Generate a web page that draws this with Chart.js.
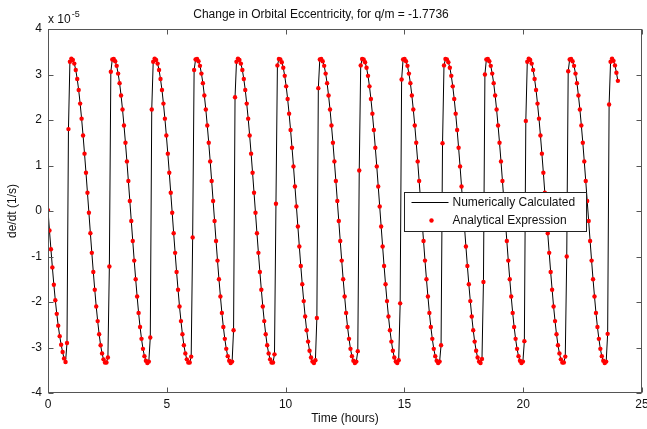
<!DOCTYPE html>
<html>
<head>
<meta charset="utf-8">
<title>Change in Orbital Eccentricity</title>
<script src="https://cdn.jsdelivr.net/npm/chart.js@4.4.1/dist/chart.umd.min.js"></script>
<style>
    html, body { margin: 0; padding: 0; background: #fff; }
    #wrap { width: 647px; height: 429px; }
</style>
</head>
<body>
<div id="wrap"><canvas id="chart" width="647" height="429"></canvas></div>
<script>
/* ═══════════════════════════════════════════
   de/dt vs time - numeric vs analytical
   ═══════════════════════════════════════════ */

// ── Data ──
// values are de/dt in units of 1e-5 (1/s), sampled every sampleStepHours
const sampleStepHours = 0.0615;
const xTicks = [0, 5, 10, 15, 20, 25];
const yTicks = [-4, -3, -2, -1, 0, 1, 2, 3, 4];
const seriesLabels = ['Numerically Calculated', 'Analytical Expression'];

const dedt = [
    0.02, -0.43, -0.84, -1.24, -1.62, -1.96, -2.26, -2.52, -2.75, -2.94, -3.10, -3.24, -3.32, -2.90,
    1.80, 3.28, 3.35, 3.32, 3.24, 3.10, 2.90, 2.66, 2.36, 2.03, 1.66, 1.26, 0.84, 0.40, -0.04, -0.49, -0.92, -1.34, -1.73, -2.10, -2.42, -2.71, -2.95, -3.13, -3.26, -3.33, -3.33, -3.22, -1.22,
    3.06, 3.33, 3.34, 3.29, 3.19, 3.02, 2.81, 2.54, 2.23, 1.88, 1.50, 1.09, 0.66, 0.22, -0.22, -0.66, -1.09, -1.50, -1.88, -2.24, -2.55, -2.81, -3.03, -3.19, -3.29, -3.34, -3.31, -2.78,
    2.23, 3.28, 3.35, 3.32, 3.24, 3.10, 2.90, 2.66, 2.36, 2.03, 1.66, 1.26, 0.84, 0.40, -0.04, -0.49, -0.92, -1.34, -1.73, -2.10, -2.42, -2.71, -2.95, -3.13, -3.26, -3.33, -3.33, -3.20, -0.58,
    3.10, 3.33, 3.34, 3.29, 3.19, 3.02, 2.81, 2.54, 2.23, 1.88, 1.50, 1.09, 0.66, 0.22, -0.22, -0.66, -1.09, -1.50, -1.88, -2.24, -2.55, -2.81, -3.03, -3.19, -3.29, -3.34, -3.31, -2.62,
    2.50, 3.28, 3.35, 3.32, 3.24, 3.10, 2.90, 2.66, 2.36, 2.03, 1.66, 1.26, 0.84, 0.40, -0.04, -0.49, -0.92, -1.34, -1.73, -2.10, -2.42, -2.71, -2.95, -3.13, -3.26, -3.33, -3.33, -3.15,
    0.16, 3.20, 3.34, 3.33, 3.27, 3.15, 2.97, 2.74, 2.46, 2.14, 1.78, 1.39, 0.98, 0.54, 0.10, -0.34, -0.78, -1.21, -1.61, -1.98, -2.32, -2.62, -2.87, -3.07, -3.22, -3.31, -3.34, -3.28, -2.35,
    2.70, 3.33, 3.34, 3.29, 3.19, 3.02, 2.81, 2.54, 2.23, 1.88, 1.50, 1.09, 0.66, 0.22, -0.22, -0.66, -1.09, -1.50, -1.88, -2.24, -2.55, -2.81, -3.03, -3.19, -3.29, -3.34, -3.31, -3.08,
    0.89, 3.20, 3.34, 3.33, 3.27, 3.15, 2.97, 2.74, 2.46, 2.14, 1.78, 1.39, 0.98, 0.54, 0.10, -0.34, -0.78, -1.21, -1.61, -1.98, -2.32, -2.62, -2.87, -3.07, -3.22, -3.31, -3.34, -3.28, -2.03,
    2.89, 3.33, 3.34, 3.29, 3.19, 3.02, 2.81, 2.54, 2.23, 1.88, 1.50, 1.09, 0.66, 0.22, -0.22, -0.66, -1.09, -1.50, -1.88, -2.24, -2.55, -2.81, -3.03, -3.19, -3.29, -3.34, -3.31, -2.95,
    1.49, 3.20, 3.34, 3.33, 3.27, 3.15, 2.97, 2.74, 2.46, 2.14, 1.78, 1.39, 0.98, 0.54, 0.10, -0.34, -0.78, -1.21, -1.61, -1.98, -2.32, -2.62, -2.87, -3.07, -3.22, -3.31, -3.34, -3.25, -1.56,
    3.00, 3.33, 3.34, 3.29, 3.19, 3.02, 2.81, 2.54, 2.23, 1.88, 1.50, 1.09, 0.66, 0.22, -0.22, -0.66, -1.09, -1.50, -1.88, -2.24, -2.55, -2.81, -3.03, -3.19, -3.29, -3.34, -3.31, -2.86,
    1.98, 3.28, 3.35, 3.32, 3.24, 3.10, 2.90, 2.66, 2.36, 2.03, 1.66, 1.26, 0.84, 0.40, -0.04, -0.49, -0.92, -1.34, -1.73, -2.10, -2.42, -2.71, -2.95, -3.13, -3.26, -3.33, -3.33, -3.20, -1.00,
    3.07, 3.33, 3.34, 3.29, 3.19, 3.02, 2.81, 2.54, 2.23, 1.88, 1.50, 1.09, 0.66, 0.22, -0.22, -0.66, -1.09, -1.50, -1.88, -2.24, -2.55, -2.81, -3.03, -3.19, -3.29, -3.34, -3.31, -2.70,
    2.34, 3.28, 3.35, 3.30, 3.20, 3.04, 2.86
];

// ── Styling ──
const FONT = "'Liberation Sans', Arial, Helvetica, sans-serif";
const TEXT_COLOR = '#111';
const FRAME_COLOR = '#555';
const DOT_COLOR = '#ff0000';

Chart.defaults.font.family = FONT;
Chart.defaults.font.size = 12;
Chart.defaults.color = TEXT_COLOR;

const linePoints = dedt.map((v, i) => ({ x: i * sampleStepHours, y: v }));
const dotPoints = dedt.map((v, i) => ({ x: i * sampleStepHours, y: v }));

// ── Box, inward ticks, exponent and legend (MATLAB look) ──
const matlabFrame = {
    id: 'matlabFrame',
    afterDraw(chart) {
        const { ctx, chartArea: a, scales } = chart;
        const tickLen = 5;
        const left = Math.round(a.left) + 0.5;
        const right = Math.round(a.right) - 0.5;
        const top = Math.round(a.top) + 0.5;
        const bottom = Math.round(a.bottom) - 0.5;

        ctx.save();
        ctx.strokeStyle = FRAME_COLOR;
        ctx.lineWidth = 1;
        ctx.beginPath();
        xTicks.forEach(v => {
            const px = Math.round(scales.x.getPixelForValue(v)) + 0.5;
            ctx.moveTo(px, bottom); ctx.lineTo(px, bottom - tickLen);
            ctx.moveTo(px, top); ctx.lineTo(px, top + tickLen);
        });
        yTicks.forEach(v => {
            const py = Math.round(scales.y.getPixelForValue(v)) + 0.5;
            ctx.moveTo(left, py); ctx.lineTo(left + tickLen, py);
            ctx.moveTo(right, py); ctx.lineTo(right - tickLen, py);
        });
        ctx.stroke();
        ctx.strokeRect(left, top, right - left, bottom - top);

        // x 10^-5 multiplier
        ctx.fillStyle = TEXT_COLOR;
        ctx.textBaseline = 'alphabetic';
        ctx.textAlign = 'left';
        ctx.font = `12px ${FONT}`;
        ctx.fillText('x 10', a.left, a.top - 6);
        const w = ctx.measureText('x 10').width;
        ctx.font = `9px ${FONT}`;
        ctx.fillText('-5', a.left + w + 1, a.top - 12);

        // legend
        const bx = Math.round(a.right) - 238 + 0.5;
        const by = Math.round(a.top) + 163 + 0.5;
        const bw = 182, bh = 39;
        ctx.fillStyle = '#fff';
        ctx.fillRect(bx, by, bw, bh);
        ctx.strokeStyle = '#222';
        ctx.strokeRect(bx, by, bw, bh);

        ctx.strokeStyle = '#000';
        ctx.beginPath();
        ctx.moveTo(bx + 7, by + 10);
        ctx.lineTo(bx + 44, by + 10);
        ctx.stroke();

        ctx.fillStyle = DOT_COLOR;
        ctx.beginPath();
        ctx.arc(bx + 27, by + 28, 2.2, 0, Math.PI * 2);
        ctx.fill();

        ctx.fillStyle = TEXT_COLOR;
        ctx.font = `12px ${FONT}`;
        ctx.textBaseline = 'middle';
        ctx.fillText(seriesLabels[0], bx + 48, by + 10.5);
        ctx.fillText(seriesLabels[1], bx + 48, by + 28.5);
        ctx.restore();
    }
};

// ── Chart ──
new Chart(document.getElementById('chart'), {
    type: 'scatter',
    data: {
        datasets: [
            {
                label: seriesLabels[1],
                data: dotPoints,
                showLine: false,
                pointRadius: 2.2,
                pointHoverRadius: 2.2,
                pointBackgroundColor: DOT_COLOR,
                pointBorderWidth: 0,
                order: 0
            },
            {
                label: seriesLabels[0],
                data: linePoints,
                showLine: true,
                borderColor: '#000',
                borderWidth: 1,
                pointRadius: 0,
                pointHoverRadius: 0,
                tension: 0,
                order: 1
            }
        ]
    },
    options: {
        responsive: false,
        animation: false,
        devicePixelRatio: 1,
        events: [],
        layout: { padding: { left: 0, right: 5, top: 0, bottom: 0 } },
        plugins: {
            legend: { display: false },
            tooltip: { enabled: false },
            title: {
                display: true,
                text: 'Change in Orbital Eccentricity, for q/m = -1.7736',
                color: TEXT_COLOR,
                font: { size: 12, weight: 'normal' },
                padding: { top: 7, bottom: 7.6 }
            }
        },
        scales: {
            x: {
                type: 'linear',
                min: 0,
                max: 25,
                grid: { display: false, drawTicks: false },
                border: { display: false },
                ticks: { padding: 4, maxRotation: 0, autoSkip: false },
                title: {
                    display: true,
                    text: 'Time (hours)',
                    font: { size: 12 },
                    padding: { top: 0, bottom: 3 }
                },
                afterBuildTicks: s => { s.ticks = xTicks.map(v => ({ value: v })); },
                afterFit: s => { s.height = 36; s.paddingLeft = 0; s.paddingRight = 0; }
            },
            y: {
                type: 'linear',
                min: -4,
                max: 4,
                grid: { display: false, drawTicks: false },
                border: { display: false },
                ticks: { padding: 6, autoSkip: false },
                title: {
                    display: true,
                    text: 'de/dt (1/s)',
                    font: { size: 12 },
                    padding: { top: 5, bottom: 0 }
                },
                afterBuildTicks: s => { s.ticks = yTicks.map(v => ({ value: v })); },
                afterFit: s => { s.width = 48; s.paddingTop = 0; s.paddingBottom = 0; }
            }
        }
    },
    plugins: [matlabFrame]
});
</script>
</body>
</html>
